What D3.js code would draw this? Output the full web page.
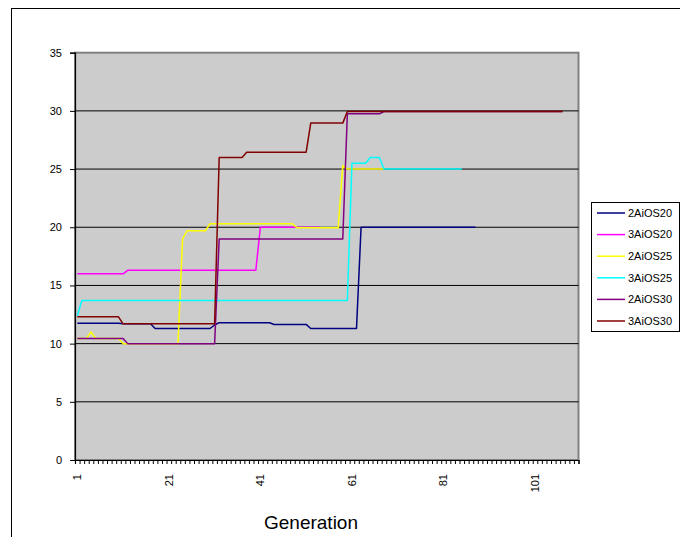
<!DOCTYPE html>
<html>
<head>
<meta charset="utf-8">
<script src="https://cdnjs.cloudflare.com/ajax/libs/d3/7.8.5/d3.min.js"></script>
<style>
  body { margin: 0; background: #fff; }
  text { font-family: Arial, "Liberation Sans", sans-serif; fill: #000; }
</style>
</head>
<body>
<div id="chart"></div>
<script>
// generations 1..110 on the category axis
var generations = d3.range(1, 111);
var xLabels = [1, 21, 41, 61, 81, 101];
var yTicks = [0, 5, 10, 15, 20, 25, 30, 35];

var seriesNames = ["2AiOS20", "3AiOS20", "2AiOS25", "3AiOS25", "2AiOS30", "3AiOS30"];
var seriesColors = ["#000080", "#ff00ff", "#ffff00", "#00ffff", "#800080", "#800000"];

// values, one per generation
var s2AiOS20 = [
  11.75, 11.75, 11.75, 11.75, 11.75, 11.75, 11.75, 11.75, 11.75, 11.75,
  11.7, 11.7, 11.7, 11.7, 11.7, 11.7, 11.7, 11.3, 11.3, 11.3,
  11.3, 11.3, 11.3, 11.3, 11.3, 11.3, 11.3, 11.3, 11.3, 11.3,
  11.6, 11.8, 11.8, 11.8, 11.8, 11.8, 11.8, 11.8, 11.8, 11.8,
  11.8, 11.8, 11.8, 11.65, 11.65, 11.65, 11.65, 11.65, 11.65, 11.65,
  11.65, 11.3, 11.3, 11.3, 11.3, 11.3, 11.3, 11.3, 11.3, 11.3,
  11.3, 11.3, 20, 20, 20, 20, 20, 20, 20, 20,
  20, 20, 20, 20, 20, 20, 20, 20, 20, 20,
  20, 20, 20, 20, 20, 20, 20, 20
];
var s3AiOS20 = [
  16, 16, 16, 16, 16, 16, 16, 16, 16, 16,
  16, 16.3, 16.3, 16.3, 16.3, 16.3, 16.3, 16.3, 16.3, 16.3,
  16.3, 16.3, 16.3, 16.3, 16.3, 16.3, 16.3, 16.3, 16.3, 16.3,
  16.3, 16.3, 16.3, 16.3, 16.3, 16.3, 16.3, 16.3, 16.3, 16.3,
  20, 20, 20, 20, 20, 20, 20, 20, 20, 20,
  20, 20, 20, 20
];
var s2AiOS25 = [
  10.45, 10.45, 10.45, 11, 10.45, 10.45, 10.45, 10.45, 10.45, 10.45,
  10, 10, 10, 10, 10, 10, 10, 10, 10, 10,
  10, 10, 10, 19, 19.7, 19.7, 19.7, 19.7, 19.7, 20.3,
  20.3, 20.3, 20.3, 20.3, 20.3, 20.3, 20.3, 20.3, 20.3, 20.3,
  20.3, 20.3, 20.3, 20.3, 20.3, 20.3, 20.3, 20.3, 19.95, 19.95,
  19.95, 19.95, 19.95, 19.95, 19.95, 19.95, 19.95, 19.95, 25.3, 25,
  25, 25, 25, 25, 25, 25, 25, 25
];
var s3AiOS25 = [
  12.4, 13.7, 13.7, 13.7, 13.7, 13.7, 13.7, 13.7, 13.7, 13.7,
  13.7, 13.7, 13.7, 13.7, 13.7, 13.7, 13.7, 13.7, 13.7, 13.7,
  13.7, 13.7, 13.7, 13.7, 13.7, 13.7, 13.7, 13.7, 13.7, 13.7,
  13.7, 13.7, 13.7, 13.7, 13.7, 13.7, 13.7, 13.7, 13.7, 13.7,
  13.7, 13.7, 13.7, 13.7, 13.7, 13.7, 13.7, 13.7, 13.7, 13.7,
  13.7, 13.7, 13.7, 13.7, 13.7, 13.7, 13.7, 13.7, 13.7, 13.7,
  25.5, 25.5, 25.5, 25.5, 26, 26, 26, 25, 25, 25,
  25, 25, 25, 25, 25, 25, 25, 25, 25, 25,
  25, 25, 25, 25, 25
];
var s2AiOS30 = [
  10.45, 10.45, 10.45, 10.45, 10.45, 10.45, 10.45, 10.45, 10.45, 10.45,
  10.45, 10, 10, 10, 10, 10, 10, 10, 10, 10,
  10, 10, 10, 10, 10, 10, 10, 10, 10, 10,
  10, 19, 19, 19, 19, 19, 19, 19, 19, 19,
  19, 19, 19, 19, 19, 19, 19, 19, 19, 19,
  19, 19, 19, 19, 19, 19, 19, 19, 19, 29.75,
  29.75, 29.75, 29.75, 29.75, 29.75, 29.75, 29.75, 29.95, 29.95, 29.95,
  29.95, 29.95, 29.95, 29.95, 29.95, 29.95, 29.95, 29.95, 29.95, 29.95,
  29.95, 29.95, 29.95, 29.95, 29.95, 29.95, 29.95, 29.95, 29.95, 29.95,
  29.95, 29.95, 29.95, 29.95, 29.95, 29.95, 29.95, 29.95, 29.95, 29.95,
  29.95, 29.95, 29.95, 29.95, 29.95, 29.95, 29.95
];
var s3AiOS30 = [
  12.3, 12.3, 12.3, 12.3, 12.3, 12.3, 12.3, 12.3, 12.3, 12.3,
  11.7, 11.7, 11.7, 11.7, 11.7, 11.7, 11.7, 11.7, 11.7, 11.7,
  11.7, 11.7, 11.7, 11.7, 11.7, 11.7, 11.7, 11.7, 11.7, 11.7,
  11.7, 26, 26, 26, 26, 26, 26, 26.45, 26.45, 26.45,
  26.45, 26.45, 26.45, 26.45, 26.45, 26.45, 26.45, 26.45, 26.45, 26.45,
  26.45, 28.95, 28.95, 28.95, 28.95, 28.95, 28.95, 28.95, 28.95, 29.95,
  29.95, 29.95, 29.95, 29.95, 29.95, 29.95, 29.95, 29.95, 29.95, 29.95,
  29.95, 29.95, 29.95, 29.95, 29.95, 29.95, 29.95, 29.95, 29.95, 29.95,
  29.95, 29.95, 29.95, 29.95, 29.95, 29.95, 29.95, 29.95, 29.95, 29.95,
  29.95, 29.95, 29.95, 29.95, 29.95, 29.95, 29.95, 29.95, 29.95, 29.95,
  29.95, 29.95, 29.95, 29.95, 29.95, 29.95, 29.95
];

var series = [s2AiOS20, s3AiOS20, s2AiOS25, s3AiOS25, s2AiOS30, s3AiOS30];

// page and plot area
var W = 680, H = 537;
var plot = { left: 75, top: 52.7, right: 578.5, bottom: 460 };

var svg = d3.select("#chart").append("svg")
  .attr("width", W)
  .attr("height", H);

svg.append("rect")
  .attr("width", W).attr("height", H)
  .attr("fill", "#fff");

// chart area border (runs off the right and bottom edges)
svg.append("rect")
  .attr("x", 11.5).attr("y", 8.5)
  .attr("width", 700).attr("height", 600)
  .attr("fill", "none")
  .attr("stroke", "#000");

// scales
var x = d3.scaleBand()
  .domain(generations)
  .range([plot.left, plot.right])
  .padding(0);

var xEdge = d3.scaleLinear()
  .domain([0.5, generations.length + 0.5])
  .range([plot.left, plot.right]);

var y = d3.scaleLinear()
  .domain([0, 35])
  .range([plot.bottom, plot.top]);

// grey plot area
svg.append("rect")
  .attr("x", plot.left).attr("y", plot.top)
  .attr("width", plot.right - plot.left)
  .attr("height", plot.bottom - plot.top)
  .attr("fill", "#cccccc")
  .attr("stroke", "#808080")
  .attr("stroke-width", 2);

// horizontal gridlines
svg.append("g")
  .selectAll("line")
  .data(yTicks.filter(function (d) { return d > 0 && d < 35; }))
  .enter().append("line")
  .attr("x1", plot.left).attr("x2", plot.right)
  .attr("y1", function (d) { return y(d); })
  .attr("y2", function (d) { return y(d); })
  .attr("stroke", "#000")
  .attr("stroke-width", 1);

// the series lines
var line = d3.line()
  .x(function (d, i) { return x(generations[i]) + x.bandwidth() / 2; })
  .y(function (d) { return y(d); });

svg.append("g")
  .selectAll("path")
  .data(series)
  .enter().append("path")
  .attr("d", line)
  .attr("fill", "none")
  .attr("stroke", function (d, i) { return seriesColors[i]; })
  .attr("stroke-width", 1.5)
  .attr("stroke-linejoin", "round");

// y axis
var yAxis = svg.append("g")
  .attr("transform", "translate(" + plot.left + ",0)")
  .call(d3.axisLeft(y).tickValues(yTicks).tickSize(5).tickPadding(8));
yAxis.select(".domain").attr("stroke", "#000").attr("stroke-width", 1.2);
yAxis.selectAll("text").style("font-size", "11px").attr("font-family", null);

// x axis: tick marks between categories
var xTickAxis = svg.append("g")
  .attr("transform", "translate(0," + plot.bottom + ")")
  .call(d3.axisBottom(xEdge)
    .tickValues(d3.range(0.5, generations.length + 1, 1))
    .tickSize(4)
    .tickFormat(""));
xTickAxis.select(".domain").attr("stroke", "#000").attr("stroke-width", 1.2);

// x axis labels, rotated
var xLabelAxis = svg.append("g")
  .attr("transform", "translate(0," + plot.bottom + ")")
  .call(d3.axisBottom(x).tickValues(xLabels).tickSize(0));
xLabelAxis.select(".domain").remove();
xLabelAxis.selectAll("text")
  .style("font-size", "11px")
  .attr("font-family", null)
  .attr("transform", "rotate(-90)")
  .attr("text-anchor", "end")
  .attr("x", -14)
  .attr("y", 0)
  .attr("dy", "0.35em");

// axis title
svg.append("text")
  .attr("x", 311)
  .attr("y", 529)
  .attr("text-anchor", "middle")
  .style("font-size", "19px")
  .text("Generation");

// legend
var legend = svg.append("g");
legend.append("rect")
  .attr("x", 591.5).attr("y", 202.5)
  .attr("width", 88).attr("height", 129)
  .attr("fill", "#fff")
  .attr("stroke", "#000");

var item = legend.selectAll(".item")
  .data(seriesNames)
  .enter().append("g")
  .attr("class", "item")
  .attr("transform", function (d, i) { return "translate(0," + (213 + i * 21.6) + ")"; });

item.append("line")
  .attr("x1", 597).attr("x2", 625)
  .attr("stroke", function (d, i) { return seriesColors[i]; })
  .attr("stroke-width", 1.5);

item.append("text")
  .attr("x", 628)
  .attr("dy", "0.35em")
  .style("font-size", "11px")
  .text(function (d) { return d; });
</script>
</body>
</html>
